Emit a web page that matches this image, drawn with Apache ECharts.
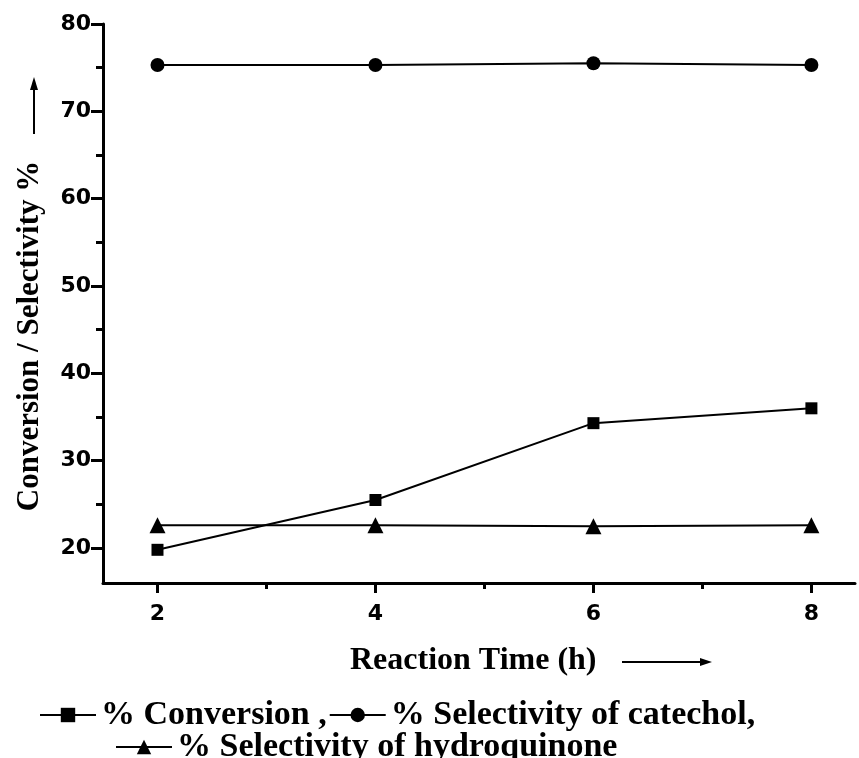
<!DOCTYPE html>
<html>
<head>
<meta charset="utf-8">
<script src="https://cdn.jsdelivr.net/npm/echarts@6/dist/echarts.min.js"></script>
<style>
html, body { margin: 0; padding: 0; background: #fff; }
#main { width: 859px; height: 758px; }
</style>
</head>
<body>
<div id="main"></div>
<script>
// data
var times = [2, 4, 6, 8];
var conversion = [19.8, 25.5, 34.3, 36.0];
var catechol = [75.3, 75.3, 75.5, 75.3];
var hydroquinone = [22.6, 22.6, 22.5, 22.6];

var xMajor = [2, 4, 6, 8];
var xMinor = [3, 5, 7];
var yMajor = [20, 30, 40, 50, 60, 70, 80];
var yMinor = [25, 35, 45, 55, 65, 75];

var names = ['% Conversion', '% Selectivity of catechol', '% Selectivity of hydroquinone'];
var legendText = {
    '% Conversion': '% Conversion ,',
    '% Selectivity of catechol': '% Selectivity of catechol,',
    '% Selectivity of hydroquinone': '% Selectivity of hydroquinone'
};

var serif = '"Liberation Serif", "Times New Roman", serif';
var sans = '"DejaVu Sans", Arial, sans-serif';

function pairs(ys) {
    return times.map(function (t, i) { return [t, ys[i]]; });
}

var chart = echarts.init(document.getElementById('main'));

var baseX = {
    type: 'value', min: 1.5, max: 8.4,
    splitLine: { show: false }
};
var baseY = {
    type: 'value', min: 16, max: 80,
    splitLine: { show: false }
};
var tickFont = { color: '#000', fontFamily: sans, fontWeight: 'bold', fontSize: 22 };
var legendFont = { color: '#000', fontFamily: serif, fontWeight: 'bold', fontSize: 34, lineHeight: 30 };

var option = {
    backgroundColor: '#fff',
    animation: false,
    grid: { left: 103, right: 4, top: 24, bottom: 175 },
    xAxis: [
        Object.assign({}, baseX, {
            axisLine: { lineStyle: { color: '#000', width: 3 } },
            axisTick: { customValues: xMajor, length: 10, lineStyle: { color: '#000', width: 3 } },
            axisLabel: Object.assign({ customValues: xMajor, margin: 20 }, tickFont)
        }),
        Object.assign({}, baseX, {
            position: 'bottom',
            axisLine: { show: false },
            axisTick: { customValues: xMinor, length: 6, lineStyle: { color: '#000', width: 3 } },
            axisLabel: { show: false }
        })
    ],
    yAxis: [
        Object.assign({}, baseY, {
            axisLine: { lineStyle: { color: '#000', width: 3 } },
            axisTick: { customValues: yMajor, length: 12, lineStyle: { color: '#000', width: 3 } },
            axisLabel: Object.assign({ customValues: yMajor, margin: 12 }, tickFont)
        }),
        Object.assign({}, baseY, {
            position: 'left',
            axisLine: { show: false },
            axisTick: { customValues: yMinor, length: 7, lineStyle: { color: '#000', width: 3 } },
            axisLabel: { show: false }
        })
    ],
    legend: [
        {
            data: [names[0], names[1]],
            left: 34, top: 693,
            itemWidth: 56, itemHeight: 18, itemGap: 2,
            formatter: function (n) { return legendText[n]; },
            textStyle: legendFont
        },
        {
            data: [names[2]],
            left: 110, top: 725,
            itemWidth: 56, itemHeight: 18,
            formatter: function (n) { return legendText[n]; },
            textStyle: legendFont
        }
    ],
    graphic: [
        {
            type: 'text', x: 30, y: 336, rotation: Math.PI / 2,
            style: {
                text: 'Conversion / Selectivity %', fill: '#000',
                font: 'bold 31px ' + serif, align: 'center', verticalAlign: 'middle'
            }
        },
        {
            type: 'line', shape: { x1: 34, y1: 88, x2: 34, y2: 134 },
            style: { stroke: '#000', lineWidth: 2 }
        },
        {
            type: 'polygon', shape: { points: [[34, 77], [30, 90], [38, 90]] },
            style: { fill: '#000' }
        },
        {
            type: 'text', left: 350, top: 645,
            style: { text: 'Reaction Time (h)', fill: '#000', font: 'bold 32px ' + serif }
        },
        {
            type: 'line', shape: { x1: 622, y1: 662, x2: 702, y2: 662 },
            style: { stroke: '#000', lineWidth: 2 }
        },
        {
            type: 'polygon', shape: { points: [[712, 662], [700, 658], [700, 666]] },
            style: { fill: '#000' }
        }
    ],
    series: [
        {
            name: names[0], type: 'line', data: pairs(conversion),
            symbol: 'rect', symbolSize: 12,
            lineStyle: { color: '#000', width: 2 },
            itemStyle: { color: '#000' }
        },
        {
            name: names[1], type: 'line', data: pairs(catechol),
            symbol: 'circle', symbolSize: 14,
            lineStyle: { color: '#000', width: 2 },
            itemStyle: { color: '#000' }
        },
        {
            name: names[2], type: 'line', data: pairs(hydroquinone),
            symbol: 'triangle', symbolSize: 16,
            lineStyle: { color: '#000', width: 2 },
            itemStyle: { color: '#000' }
        }
    ]
};

chart.setOption(option);
</script>
</body>
</html>
